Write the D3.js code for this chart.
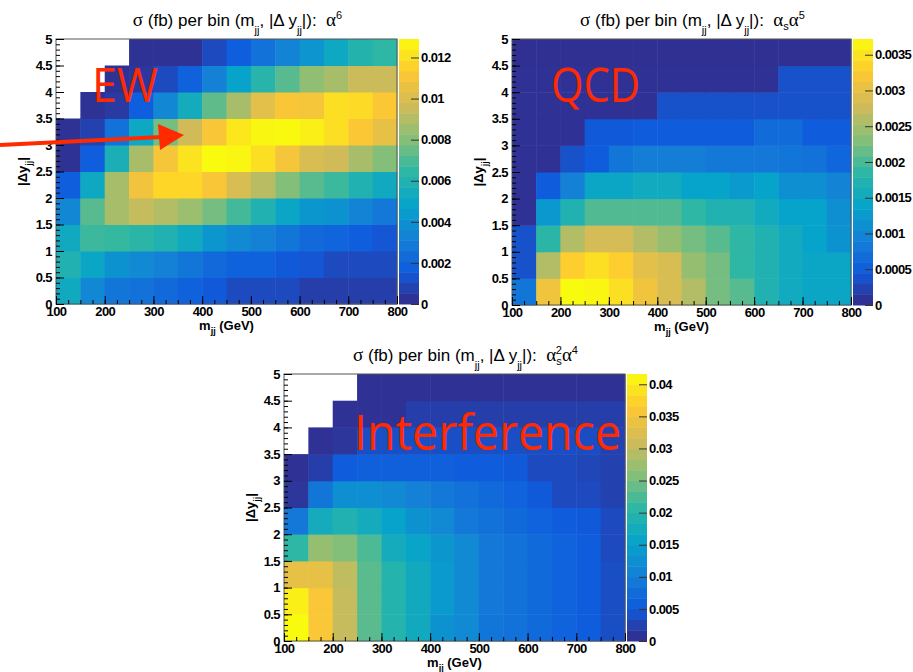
<!DOCTYPE html>
<html>
<head>
<meta charset="utf-8">
<script src="https://cdn.jsdelivr.net/npm/d3@7"></script>
<style>
body { margin: 0; background: #fff; }
text { font-family: "Liberation Sans", Arial, sans-serif; }
</style>
</head>
<body>
<div id="chart"></div>
<script>
// bin edges and tick labels
var mjjEdges = [100, 150, 200, 250, 300, 350, 400, 450, 500, 550, 600, 650, 700, 750, 800];
var dyEdges = [0, 0.5, 1, 1.5, 2, 2.5, 3, 3.5, 4, 4.5, 5];
var mjjTicks = [100, 200, 300, 400, 500, 600, 700, 800];
var dyTicks = [0, 0.5, 1, 1.5, 2, 2.5, 3, 3.5, 4, 4.5, 5];
var ewZTicks = [0, 0.002, 0.004, 0.006, 0.008, 0.01, 0.012];
var qcdZTicks = [0, 0.0005, 0.001, 0.0015, 0.002, 0.0025, 0.003, 0.0035];
var intZTicks = [0, 0.005, 0.01, 0.015, 0.02, 0.025, 0.03, 0.035, 0.04];

// sigma (fb) per bin, rows from |dy| 0-0.5 up to 4.5-5, columns m_jj 100-150 ... 750-800
// null = empty bin
var ewValues = [
    [0.00529, 0.00348, 0.00271, 0.00258, 0.00219, 0.00181, 0.00155, 0.00103, 0.00103, 0.00103, 0.00065, 0.00065, 0.00065, 0.00065],
    [0.00593, 0.00503, 0.00400, 0.00361, 0.00323, 0.00271, 0.00219, 0.00181, 0.00181, 0.00155, 0.00142, 0.00103, 0.00103, 0.00103],
    [0.00529, 0.00671, 0.00658, 0.00632, 0.00593, 0.00529, 0.00426, 0.00361, 0.00323, 0.00271, 0.00219, 0.00194, 0.00168, 0.00142],
    [0.00348, 0.00722, 0.00877, 0.00942, 0.00903, 0.00851, 0.00774, 0.00684, 0.00593, 0.00503, 0.00426, 0.00400, 0.00335, 0.00284],
    [0.00168, 0.00516, 0.00877, 0.01084, 0.01174, 0.01174, 0.01109, 0.00993, 0.00916, 0.00800, 0.00722, 0.00671, 0.00593, 0.00529],
    [0.00026, 0.00168, 0.00568, 0.00877, 0.01097, 0.01213, 0.01290, 0.01277, 0.01200, 0.01097, 0.00993, 0.00968, 0.00877, 0.00800],
    [0.00026, 0.00077, 0.00258, 0.00516, 0.00774, 0.00968, 0.01109, 0.01226, 0.01277, 0.01285, 0.01251, 0.01200, 0.01122, 0.01045],
    [null, 0.00026, 0.00052, 0.00168, 0.00348, 0.00542, 0.00735, 0.00877, 0.01032, 0.01109, 0.01097, 0.01200, 0.01187, 0.01122],
    [null, null, 0.00026, 0.00039, 0.00103, 0.00181, 0.00323, 0.00477, 0.00619, 0.00722, 0.00826, 0.00877, 0.00955, 0.00955],
    [null, null, null, 0.00026, 0.00026, 0.00026, 0.00103, 0.00168, 0.00258, 0.00335, 0.00413, 0.00516, 0.00606, 0.00645]
];

var qcdValues = [
    [0.00078, 0.00312, 0.00372, 0.00368, 0.00346, 0.00312, 0.00286, 0.00260, 0.00223, 0.00208, 0.00171, 0.00153, 0.00145, 0.00145],
    [0.00037, 0.00260, 0.00331, 0.00346, 0.00331, 0.00298, 0.00286, 0.00242, 0.00223, 0.00186, 0.00171, 0.00153, 0.00145, 0.00145],
    [0.00037, 0.00182, 0.00260, 0.00283, 0.00283, 0.00260, 0.00242, 0.00223, 0.00208, 0.00186, 0.00171, 0.00153, 0.00138, 0.00115],
    [0.00007, 0.00123, 0.00171, 0.00205, 0.00205, 0.00205, 0.00205, 0.00186, 0.00171, 0.00171, 0.00153, 0.00138, 0.00138, 0.00112],
    [0.00007, 0.00048, 0.00093, 0.00145, 0.00145, 0.00153, 0.00153, 0.00138, 0.00138, 0.00126, 0.00138, 0.00112, 0.00112, 0.00097],
    [0.00007, 0.00007, 0.00037, 0.00048, 0.00078, 0.00089, 0.00089, 0.00089, 0.00082, 0.00082, 0.00082, 0.00078, 0.00074, 0.00060],
    [0.00007, 0.00007, 0.00007, 0.00045, 0.00045, 0.00048, 0.00048, 0.00048, 0.00048, 0.00048, 0.00067, 0.00067, 0.00048, 0.00048],
    [0.00007, 0.00007, 0.00007, 0.00007, 0.00007, 0.00007, 0.00037, 0.00037, 0.00037, 0.00037, 0.00037, 0.00037, 0.00037, 0.00037],
    [0.00007, 0.00007, 0.00007, 0.00007, 0.00007, 0.00007, 0.00007, 0.00007, 0.00007, 0.00007, 0.00007, 0.00037, 0.00037, 0.00037],
    [0.00006, 0.00006, 0.00006, 0.00006, 0.00006, 0.00006, 0.00006, 0.00006, 0.00006, 0.00006, 0.00006, 0.00006, 0.00006, 0.00006]
];

var intValues = [
    [0.0416, 0.0358, 0.0304, 0.0233, 0.0196, 0.0171, 0.0129, 0.0116, 0.0087, 0.0083, 0.0071, 0.0062, 0.0054, 0.0037],
    [0.0404, 0.0358, 0.0304, 0.0233, 0.0196, 0.0171, 0.0141, 0.0116, 0.0092, 0.0083, 0.0071, 0.0062, 0.0054, 0.0037],
    [0.0337, 0.0337, 0.0300, 0.0233, 0.0196, 0.0171, 0.0141, 0.0116, 0.0092, 0.0083, 0.0071, 0.0062, 0.0054, 0.0037],
    [0.0208, 0.0270, 0.0258, 0.0225, 0.0175, 0.0158, 0.0137, 0.0116, 0.0092, 0.0083, 0.0071, 0.0062, 0.0054, 0.0033],
    [0.0092, 0.0175, 0.0191, 0.0175, 0.0154, 0.0129, 0.0116, 0.0092, 0.0083, 0.0071, 0.0062, 0.0054, 0.0050, 0.0033],
    [0.0012, 0.0087, 0.0125, 0.0125, 0.0116, 0.0104, 0.0092, 0.0083, 0.0071, 0.0062, 0.0050, 0.0033, 0.0033, 0.0025],
    [0.0008, 0.0021, 0.0054, 0.0058, 0.0058, 0.0058, 0.0058, 0.0054, 0.0054, 0.0050, 0.0033, 0.0033, 0.0029, 0.0025],
    [null, 0.0008, 0.0012, 0.0037, 0.0037, 0.0037, 0.0037, 0.0037, 0.0037, 0.0037, 0.0037, 0.0037, 0.0035, 0.0025],
    [null, null, 0.0008, 0.0008, 0.0008, 0.0021, 0.0021, 0.0021, 0.0021, 0.0021, 0.0021, 0.0021, 0.0021, 0.0021],
    [null, null, null, 0.0008, 0.0008, 0.0008, 0.0008, 0.0008, 0.0008, 0.0008, 0.0008, 0.0008, 0.0008, 0.0008]
];

// ROOT kBird palette
var birdColors = ["#352a87", "#0f5cdd", "#1481d6", "#06a4ca", "#2eb7a4", "#87bf77", "#d1bb59", "#fec832", "#f9fb0e"];
var nBands = 25;
var red = "#ff2a00";

var svg = d3.select("#chart")
    .append("svg")
    .attr("width", 913)
    .attr("height", 672);

function styleLabels(sel) {
    sel.style("font-size", "13px")
        .style("font-weight", "bold")
        .style("letter-spacing", "-0.6px")
        .attr("fill", "#000");
}

function drawPanel(p) {
    var g = svg.append("g");
    var x = d3.scaleLinear()
        .domain([mjjEdges[0], mjjEdges[mjjEdges.length - 1]])
        .range([p.x0, p.x1]);
    var y = d3.scaleLinear()
        .domain([dyEdges[0], dyEdges[dyEdges.length - 1]])
        .range([p.y1, p.y0]);
    var zMax = d3.max(p.values.flat());
    var color = d3.scaleLinear()
        .domain(birdColors.map(function (c, i) { return i / (birdColors.length - 1) * zMax; }))
        .range(birdColors)
        .clamp(true);

    var cells = [];
    p.values.forEach(function (row, i) {
        row.forEach(function (v, j) {
            if (v !== null) cells.push({ i: i, j: j, v: v });
        });
    });

    g.selectAll(".cell")
        .data(cells)
        .enter()
        .append("rect")
        .attr("class", "cell")
        .attr("x", function (d) { return x(mjjEdges[d.j]); })
        .attr("y", function (d) { return y(dyEdges[d.i + 1]); })
        .attr("width", function (d) { return x(mjjEdges[d.j + 1]) - x(mjjEdges[d.j]) + 0.5; })
        .attr("height", function (d) { return y(dyEdges[d.i]) - y(dyEdges[d.i + 1]) + 0.5; })
        .attr("fill", function (d) { return color(d.v); });

    // frame
    g.append("rect")
        .attr("x", p.x0)
        .attr("y", p.y0)
        .attr("width", p.x1 - p.x0)
        .attr("height", p.y1 - p.y0)
        .attr("fill", "none")
        .attr("stroke", "#555")
        .attr("stroke-width", 1);

    // axes, ticks pointing inwards like ROOT
    var xMinor = g.append("g")
        .attr("transform", "translate(0," + p.y1 + ")")
        .call(d3.axisBottom(x).tickValues(d3.range(100, 801, 25)).tickSize(-4).tickFormat(""));
    var xAxis = g.append("g")
        .attr("transform", "translate(0," + p.y1 + ")")
        .call(d3.axisBottom(x).tickValues(mjjTicks).tickSize(-8).tickPadding(3).tickFormat(d3.format("d")));
    var yMinor = g.append("g")
        .attr("transform", "translate(" + p.x0 + ",0)")
        .call(d3.axisLeft(y).tickValues(d3.range(0, 5.001, 0.1)).tickSize(-4).tickFormat(""));
    var yAxis = g.append("g")
        .attr("transform", "translate(" + p.x0 + ",0)")
        .call(d3.axisLeft(y).tickValues(dyTicks).tickSize(-8).tickPadding(4).tickFormat(d3.format("~g")));

    [xMinor, xAxis, yMinor, yAxis].forEach(function (a) {
        a.select(".domain").remove();
        styleLabels(a.selectAll("text"));
    });

    // axis titles
    var xt = g.append("text")
        .attr("x", (p.x0 + p.x1) / 2)
        .attr("y", p.y1 + 26)
        .attr("text-anchor", "middle")
        .style("font-size", "13px")
        .style("font-weight", "bold");
    xt.append("tspan").text("m");
    xt.append("tspan").attr("dy", 4).style("font-size", "9px").text("jj");
    xt.append("tspan").attr("dy", -4).text("\u00a0(GeV)");

    var yt = g.append("text")
        .attr("transform", "translate(" + (p.x0 - 29) + "," + ((p.y0 + p.y1) / 2) + ") rotate(-90)")
        .attr("text-anchor", "middle")
        .style("font-size", "13px")
        .style("font-weight", "bold");
    yt.append("tspan").text("|\u0394y");
    yt.append("tspan").attr("dy", 5).style("font-size", "9px").text("jj");
    yt.append("tspan").attr("dy", -5).text("|");

    // title
    var t = g.append("text")
        .attr("x", (p.x0 + p.x1) / 2 + 11)
        .attr("y", p.y0 - 13)
        .attr("text-anchor", "middle")
        .style("font-size", "17px");
    t.append("tspan").style("font-family", "Liberation Serif").style("font-size", "19px").text("\u03c3");
    t.append("tspan").text(" (fb) per bin (m");
    t.append("tspan").attr("dy", 8).style("font-size", "11px").text("jj");
    t.append("tspan").attr("dy", -8).text(", |\u0394 y");
    t.append("tspan").attr("dy", 8).style("font-size", "11px").text("jj");
    t.append("tspan").attr("dy", -8).text("|):\u00a0\u00a0");
    p.order(t);

    // colour bar
    var cx0 = p.x1 + 2, cx1 = p.x1 + 22;
    var z = d3.scaleLinear().domain([0, zMax]).range([p.y1, p.y0]);
    var bands = d3.range(nBands);
    g.selectAll(".band")
        .data(bands)
        .enter()
        .append("rect")
        .attr("class", "band")
        .attr("x", cx0)
        .attr("width", cx1 - cx0)
        .attr("y", function (k) { return z((k + 1) * zMax / nBands); })
        .attr("height", function (k) { return z(k * zMax / nBands) - z((k + 1) * zMax / nBands) + 0.5; })
        .attr("fill", function (k) { return color((k + 0.5) * zMax / nBands); });

    var zAxis = g.append("g")
        .attr("transform", "translate(" + cx1 + ",0)")
        .call(d3.axisRight(z).tickValues(p.zTicks).tickSize(-8).tickPadding(2).tickFormat(d3.format("~g")));
    zAxis.select(".domain").remove();
    zAxis.selectAll("line").attr("stroke", "#333");
    styleLabels(zAxis.selectAll("text"));

    // red annotation
    g.append("text")
        .attr("x", p.labelX)
        .attr("y", p.labelY)
        .attr("textLength", p.labelW)
        .attr("lengthAdjust", "spacingAndGlyphs")
        .style("font-family", "'Open Sans', sans-serif")
        .style("font-size", p.labelSize + "px")
        .attr("fill", red)
        .text(p.label);
}

function alpha(t) {
    return t.append("tspan").style("font-family", "Liberation Serif").style("font-size", "19px").text("\u03b1");
}

drawPanel({
    x0: 56, x1: 397, y0: 39, y1: 304,
    values: ewValues, zTicks: ewZTicks,
    label: "EW", labelX: 92, labelY: 102, labelW: 66, labelSize: 47,
    order: function (t) {
        alpha(t);
        t.append("tspan").attr("dy", -7).style("font-size", "11px").text("6");
    }
});

drawPanel({
    x0: 512, x1: 851, y0: 39, y1: 305,
    values: qcdValues, zTicks: qcdZTicks,
    label: "QCD", labelX: 551, labelY: 102, labelW: 89, labelSize: 47,
    order: function (t) {
        alpha(t);
        t.append("tspan").attr("dy", 4).style("font-size", "11px").text("s");
        alpha(t).attr("dy", -4);
        t.append("tspan").attr("dy", -7).style("font-size", "11px").text("5");
    }
});

drawPanel({
    x0: 284, x1: 625, y0: 374, y1: 641,
    values: intValues, zTicks: intZTicks,
    label: "Interference", labelX: 354, labelY: 450, labelW: 267, labelSize: 49,
    order: function (t) {
        alpha(t);
        t.append("tspan").attr("dy", 4).style("font-size", "11px").text("s");
        t.append("tspan").attr("dx", -6).attr("dy", -11).style("font-size", "11px").text("2");
        alpha(t).attr("dy", 7);
        t.append("tspan").attr("dy", -7).style("font-size", "11px").text("4");
    }
});

// red arrow on the EW panel
svg.append("line")
    .attr("x1", 0).attr("y1", 145)
    .attr("x2", 162).attr("y2", 137)
    .attr("stroke", red)
    .attr("stroke-width", 4);
svg.append("path")
    .attr("d", "M158,124 L160,150 L184,135 Z")
    .attr("fill", red);
</script>
</body>
</html>
